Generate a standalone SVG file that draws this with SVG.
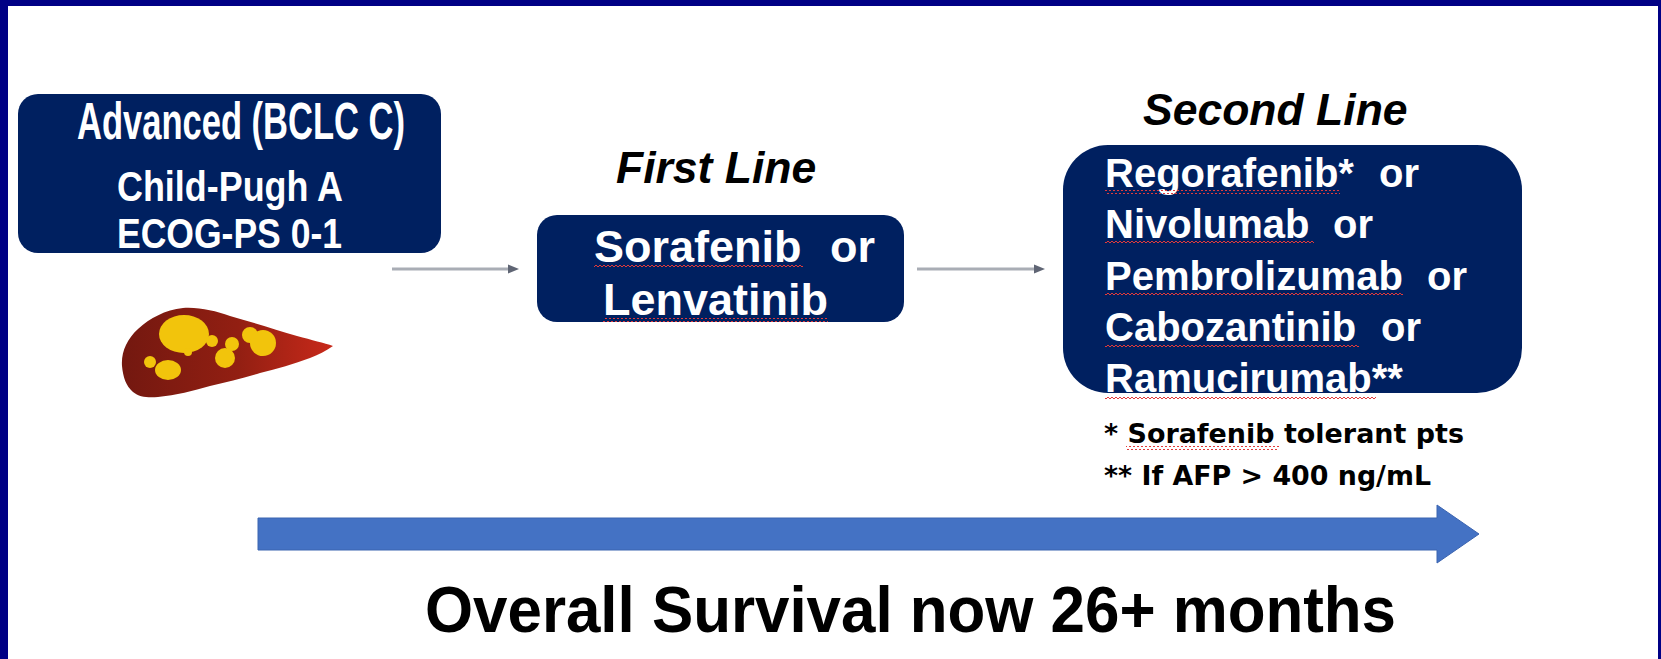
<svg xmlns="http://www.w3.org/2000/svg" width="1661" height="659" viewBox="0 0 1661 659">
  <defs>
    <style>
      .box { fill: #002060; }
      .boxtxt { font-family: "Liberation Sans", Arial, sans-serif; font-weight: bold; fill: #ffffff; }
      .title { font-family: "Liberation Sans", Arial, sans-serif; font-weight: bold; font-style: italic; font-size: 44.5px; fill: #000000; }
      .note { font-family: "DejaVu Sans", Verdana, sans-serif; font-weight: bold; font-size: 27px; fill: #000000; }
      .conn { stroke: #a9adb5; stroke-width: 3; fill: none; }
      .wavy { fill: url(#squiggle); }
    </style>
    <marker id="arrowhead" markerWidth="12" markerHeight="10" refX="0" refY="5" orient="auto" markerUnits="userSpaceOnUse">
      <path d="M0,0.5 L11,5 L0,9.5 z" fill="#5f6574"/>
    </marker>
    <!-- red zig-zag used for the spell-check underlines -->
    <pattern id="squiggle" width="4" height="4" patternUnits="userSpaceOnUse">
      <path d="M0,1 L2,3 L4,1" fill="none" stroke="#e23a3a" stroke-width="1"/>
    </pattern>
    <linearGradient id="liverGrad" x1="0" y1="0" x2="1" y2="0">
      <stop offset="0" stop-color="#731810"/>
      <stop offset="0.55" stop-color="#921f12"/>
      <stop offset="1" stop-color="#c8291a"/>
    </linearGradient>
  </defs>

  <!-- page background and navy frame -->
  <rect x="0" y="0" width="1661" height="659" fill="#ffffff"/>
  <g id="frame" fill="#000085">
    <rect x="0" y="0" width="1661" height="6"/>
    <rect x="0" y="0" width="8" height="659"/>
    <rect x="1658" y="0" width="3" height="659"/>
  </g>

  <!-- stage box -->
  <g id="node-stage">
    <rect class="box" x="18" y="94" width="423" height="159" rx="20" ry="20"/>
    <text class="boxtxt" font-size="52" x="77" y="139" textLength="328" lengthAdjust="spacingAndGlyphs">Advanced (BCLC C)</text>
    <text class="boxtxt" font-size="42" x="117" y="201" textLength="226" lengthAdjust="spacingAndGlyphs">Child-Pugh A</text>
    <text class="boxtxt" font-size="42" x="117" y="248" textLength="225" lengthAdjust="spacingAndGlyphs">ECOG-PS 0-1</text>
  </g>

  <!-- liver with tumour spots -->
  <g id="liver">
    <path d="M122,366 C121,352 127,339 138,329 C150,318 165,310 183,308 C200,307 215,311 230,316 C252,322 276,330 297,336 C312,340 324,343 333,346 C326,351 318,355 310,358 C294,364 277,369 260,373 C243,378 227,382 210,386 C193,391 176,395 158,397 C148,398 139,397 133,392 C126,386 123,377 122,366 Z" fill="url(#liverGrad)"/>
    <g fill="#f2c40c">
      <ellipse cx="184" cy="334" rx="25" ry="19"/>
      <circle cx="188" cy="352" r="4"/>
      <circle cx="212" cy="341" r="6"/>
      <circle cx="232" cy="344" r="7"/>
      <circle cx="250" cy="335" r="8"/>
      <circle cx="263" cy="343" r="13"/>
      <circle cx="225" cy="358" r="10"/>
      <ellipse cx="168" cy="370" rx="13" ry="10"/>
      <circle cx="150" cy="362" r="6"/>
    </g>
  </g>

  <!-- first line -->
  <g id="node-first">
    <text class="title" x="616" y="183">First Line</text>
    <rect class="box" x="537" y="215" width="367" height="107" rx="20" ry="20"/>
    <text class="boxtxt" font-size="45"><tspan x="594" y="262">Sorafenib</tspan><tspan x="830" y="262">or</tspan><tspan x="603" y="315">Lenvatinib</tspan></text>
    <rect class="wavy" x="594" y="264" width="209" height="4"/>
    <rect class="wavy" x="603" y="318" width="225" height="4"/>
  </g>

  <!-- second line -->
  <g id="node-second">
    <text class="title" x="1143" y="125">Second Line</text>
    <rect class="box" x="1063" y="145" width="459" height="248" rx="45" ry="45"/>
    <text class="boxtxt" font-size="40">
      <tspan x="1105" y="187">Regorafenib*</tspan><tspan x="1379" y="187">or</tspan>
      <tspan x="1105" y="238">Nivolumab</tspan><tspan x="1333" y="238">or</tspan>
      <tspan x="1105" y="290">Pembrolizumab</tspan><tspan x="1427" y="290">or</tspan>
      <tspan x="1105" y="341">Cabozantinib</tspan><tspan x="1381" y="341">or</tspan>
      <tspan x="1105" y="392">Ramucirumab**</tspan>
    </text>
    <rect class="wavy" x="1105" y="190" width="235" height="4"/>
    <rect class="wavy" x="1105" y="241" width="209" height="4"/>
    <rect class="wavy" x="1105" y="293" width="298" height="4"/>
    <rect class="wavy" x="1105" y="344" width="254" height="4"/>
    <rect class="wavy" x="1105" y="395" width="271" height="4"/>
  </g>

  <!-- footnotes -->
  <g id="footnotes">
    <text class="note" x="1104" y="443" textLength="360" lengthAdjust="spacingAndGlyphs">* Sorafenib tolerant pts</text>
    <rect class="wavy" x="1126" y="446" width="153" height="4"/>
    <text class="note" x="1104" y="485" textLength="327" lengthAdjust="spacingAndGlyphs">** If AFP &gt; 400 ng/mL</text>
  </g>

  <!-- connectors -->
  <g id="connectors">
    <line class="conn" x1="392" y1="269" x2="508" y2="269" marker-end="url(#arrowhead)"/>
    <line class="conn" x1="917" y1="269" x2="1034" y2="269" marker-end="url(#arrowhead)"/>
  </g>

  <!-- survival timeline -->
  <g id="timeline">
    <path d="M258,518 L1437,518 L1437,505 L1479,534 L1437,563 L1437,550 L258,550 Z" fill="#4472c4" stroke="#3b64b0" stroke-width="1"/>
    <text x="425" y="632" font-family="Liberation Sans, Arial, sans-serif" font-weight="bold" font-size="64" fill="#000000" textLength="971" lengthAdjust="spacingAndGlyphs">Overall Survival now 26+ months</text>
  </g>
</svg>
